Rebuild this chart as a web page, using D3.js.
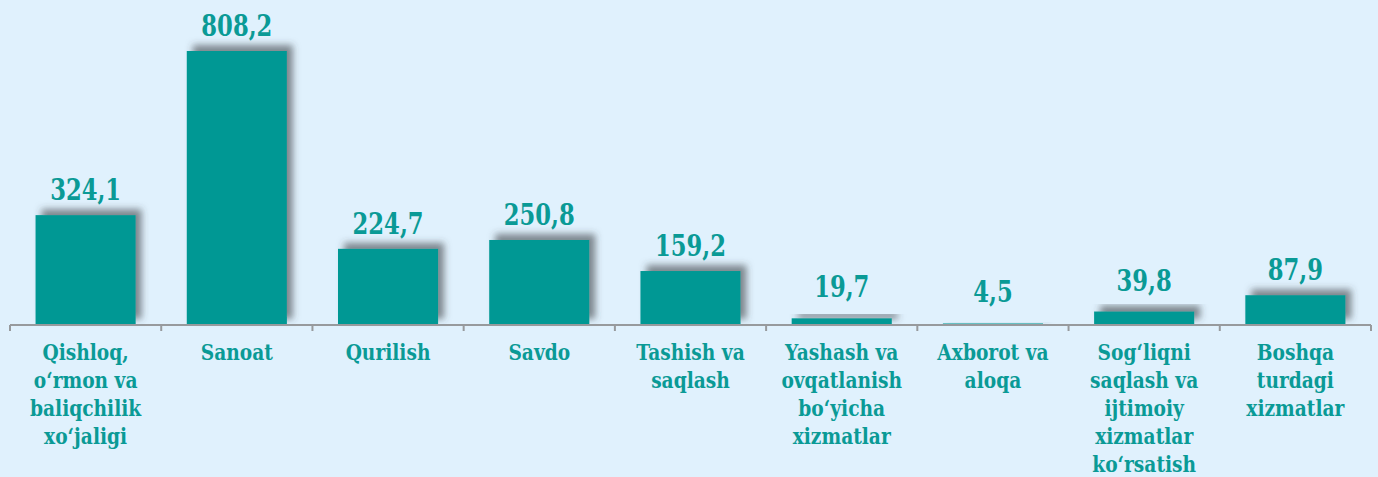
<!DOCTYPE html>
<html>
<head>
<meta charset="utf-8">
<script src="https://cdn.jsdelivr.net/npm/d3@7"></script>
<style>
  html, body { margin: 0; padding: 0; background: #e0f1fd; }
  svg { display: block; }
  text { font-weight: bold; font-family: "DejaVu Serif Condensed", "DejaVu Serif", serif; font-stretch: condensed; }
</style>
</head>
<body>
<svg id="chart" width="1378" height="477"></svg>
<script>
const categories = [
  ["Qishloq,", "o‘rmon va", "baliqchilik", "xo‘jaligi"],
  ["Sanoat"],
  ["Qurilish"],
  ["Savdo"],
  ["Tashish va", "saqlash"],
  ["Yashash va", "ovqatlanish", "bo‘yicha", "xizmatlar"],
  ["Axborot va", "aloqa"],
  ["Sog‘liqni", "saqlash va", "ijtimoiy", "xizmatlar", "ko‘rsatish"],
  ["Boshqa", "turdagi", "xizmatlar"]
];
const values = [324.1, 808.2, 224.7, 250.8, 159.2, 19.7, 4.5, 39.8, 87.9];
const valueLabels = ["324,1", "808,2", "224,7", "250,8", "159,2", "19,7", "4,5", "39,8", "87,9"];

const W = 1378, H = 477;
const svg = d3.select("#chart");
svg.append("rect").attr("width", W).attr("height", H).attr("fill", "#e0f1fd");

const defs = svg.append("defs");
const f = defs.append("filter").attr("id", "shadow")
  .attr("x", "-20%").attr("y", "-50%").attr("width", "140%").attr("height", "200%");
f.append("feDropShadow").attr("dx", 6).attr("dy", -6).attr("stdDeviation", 3.5)
  .attr("flood-color", "#3a3f45").attr("flood-opacity", 0.6);

const idx = d3.range(values.length);
const x = d3.scaleBand().domain(idx).range([10, 1371]).paddingInner(0.338).paddingOuter(0.169);
const y = d3.scaleLinear().domain([0, 808.2]).range([325, 51]);

const teal = "#009894";
const textTeal = "#0a9a96";

svg.append("g").selectAll("rect").data(idx).join("rect")
  .attr("x", i => x(i))
  .attr("width", x.bandwidth())
  .attr("y", i => y(values[i]))
  .attr("height", i => y(0) - y(values[i]))
  .attr("fill", teal)
  .attr("filter", "url(#shadow)");

const axisG = svg.append("g").attr("stroke", "#979a9d").attr("stroke-width", 2).attr("fill", "none");
axisG.append("line").attr("x1", 10).attr("x2", 1371).attr("y1", y(0)).attr("y2", y(0));
const tickXs = d3.range(values.length + 1).map(k => 10 + k * (1361 / values.length));
axisG.selectAll("line.tick").data(tickXs).join("line").attr("class", "tick")
  .attr("x1", d => d).attr("x2", d => d).attr("y1", y(0)).attr("y2", y(0) + 6);

svg.append("g").selectAll("text").data(idx).join("text")
  .attr("transform", i => `translate(${x(i) + x.bandwidth() / 2},${y(values[i]) - (values[i] < 50 ? 21 : 15)}) scale(0.84,1)`)
  .attr("text-anchor", "middle")
  .style("font-size", "30px")
  .attr("fill", textTeal)
  .text(i => valueLabels[i]);

const catG = svg.append("g");
idx.forEach(i => {
  const t = catG.append("text")
    .attr("transform", `translate(${x(i) + x.bandwidth() / 2},360) scale(0.9,1)`)
    .attr("text-anchor", "middle")
    .style("font-size", "23px")
    .attr("fill", textTeal);
  categories[i].forEach((line, j) => {
    t.append("tspan").attr("x", 0).attr("y", j * 27.9).text(line);
  });
});
</script>
</body>
</html>
